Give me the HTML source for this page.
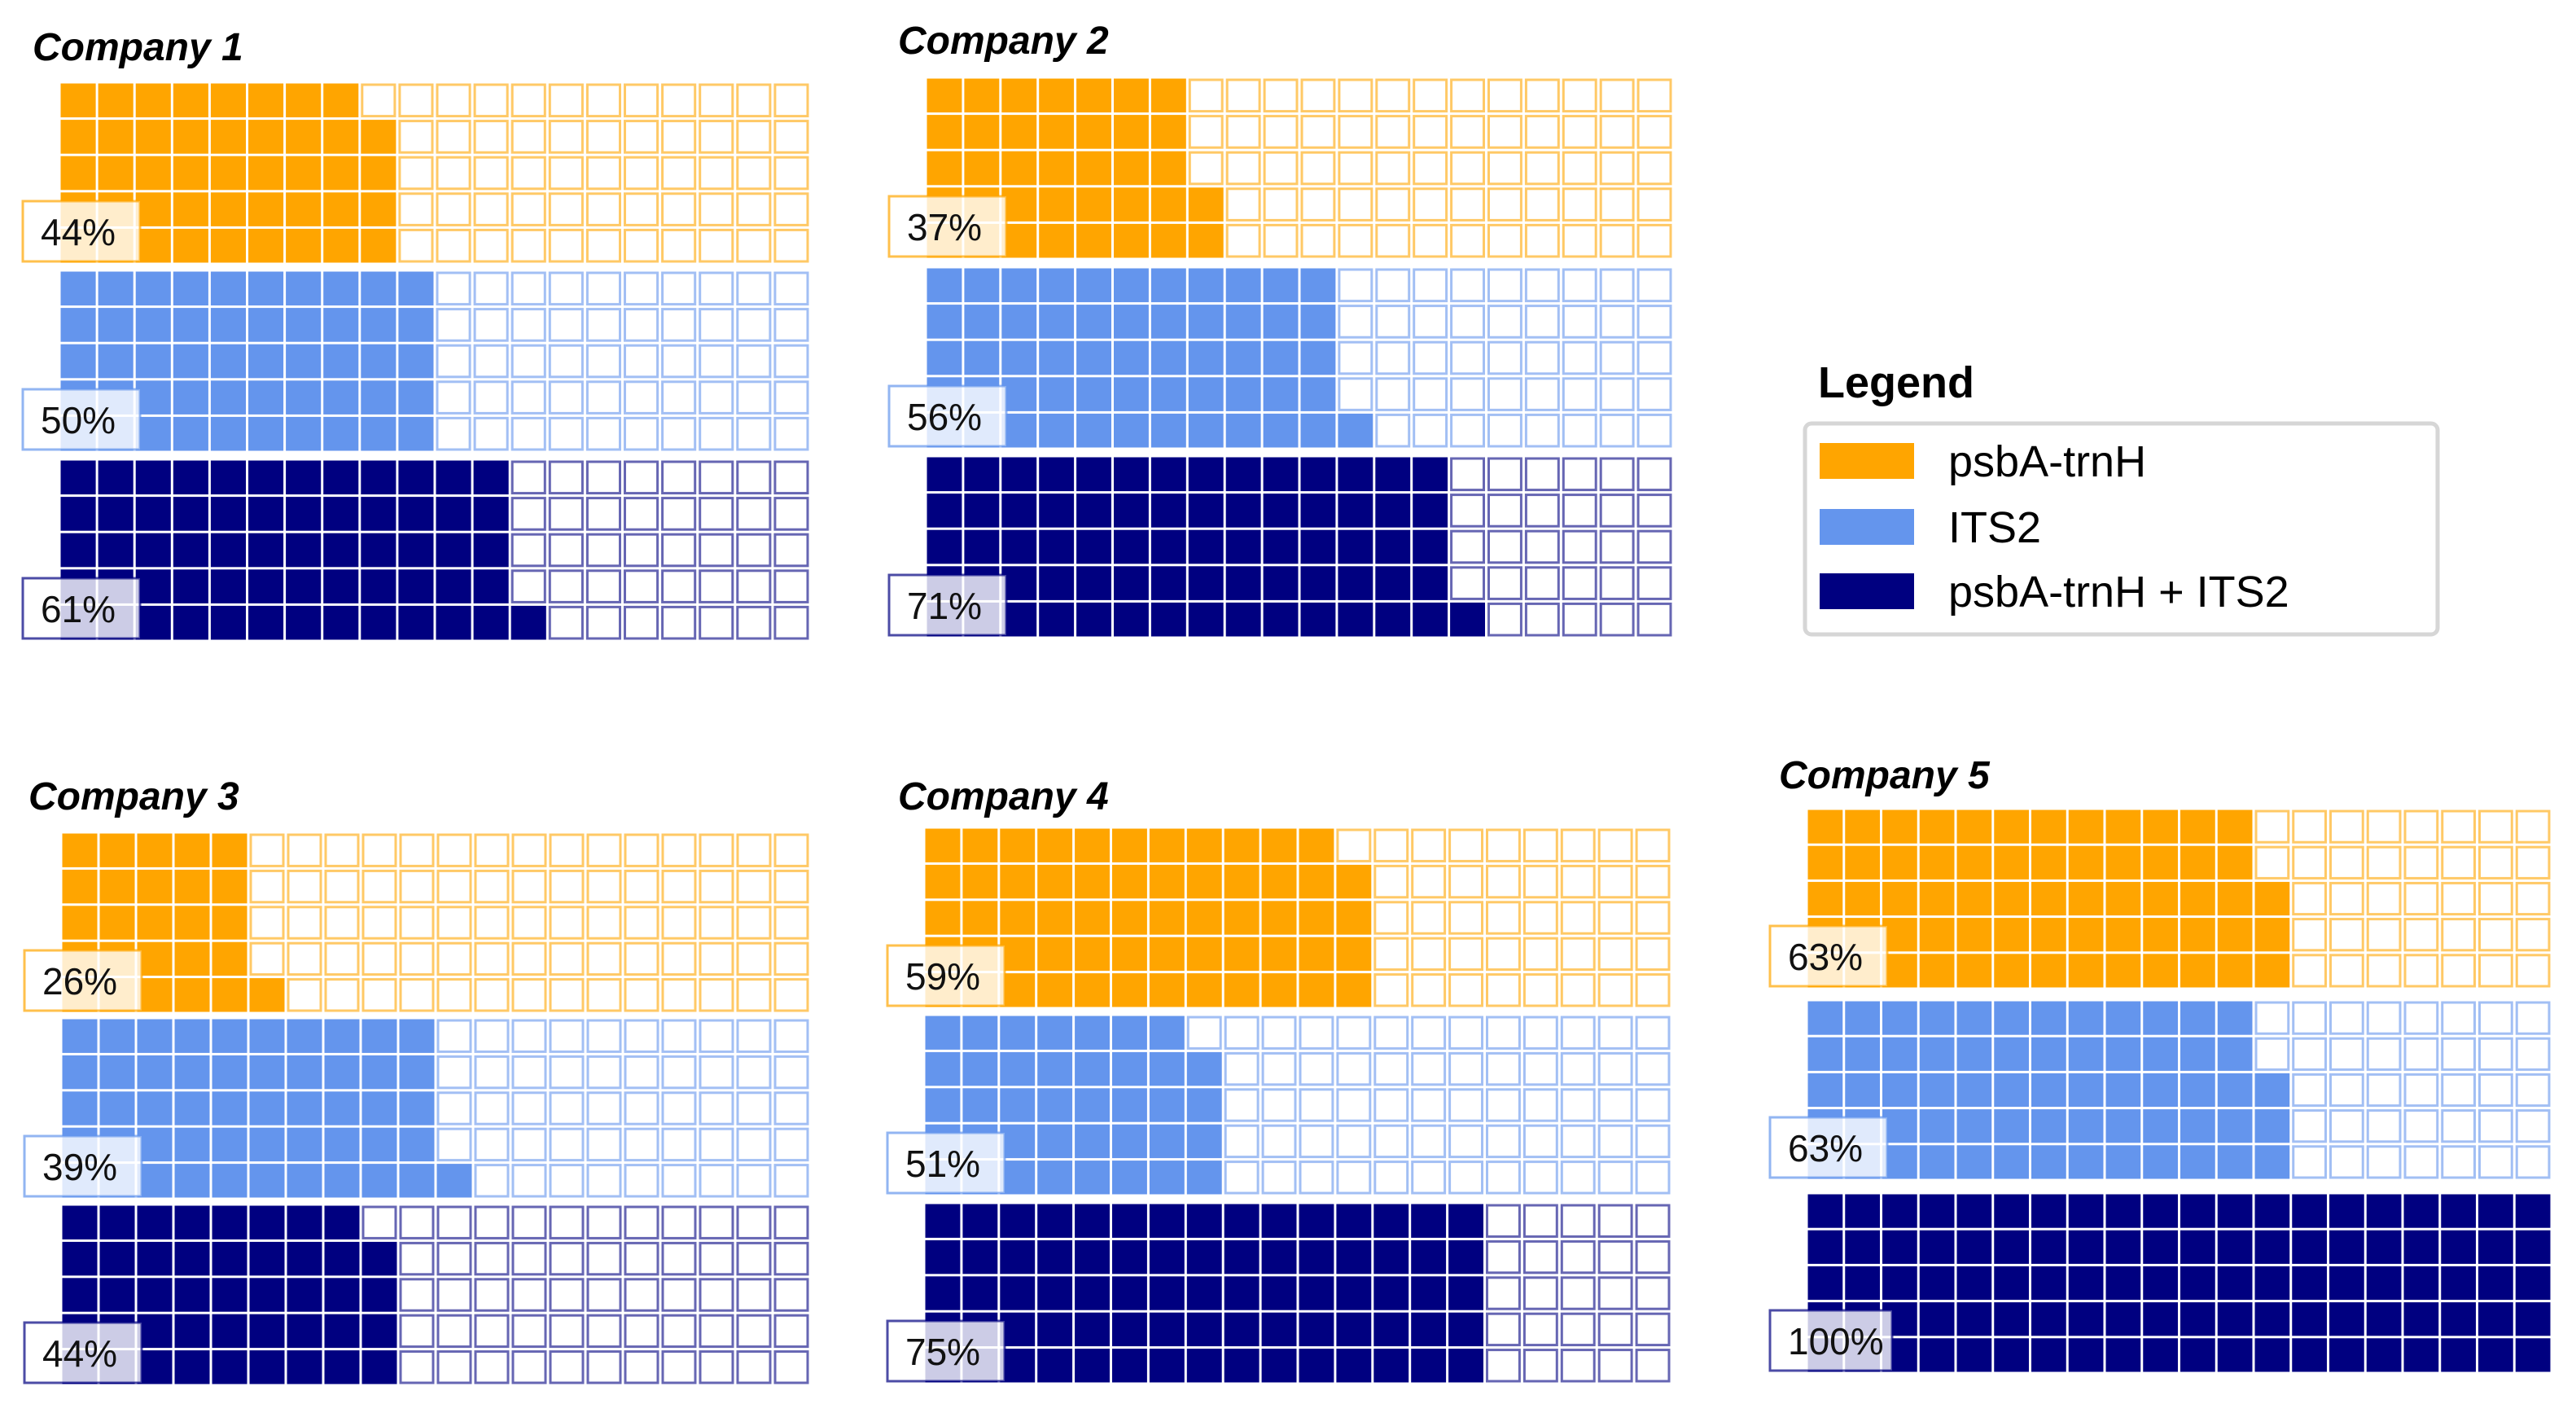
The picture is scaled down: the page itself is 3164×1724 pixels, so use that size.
<!DOCTYPE html>
<html><head><meta charset="utf-8"><style>
html,body{margin:0;padding:0;background:#fff;}
svg{display:block;font-family:"Liberation Sans",sans-serif;}
</style></head><body>
<svg id="chart" width="3164" height="1724" viewBox="0 0 3164 1724" xmlns="http://www.w3.org/2000/svg">
<g>
<text x="2233" y="488" font-size="54" font-weight="bold">Legend</text>
<rect x="2217" y="520" width="777" height="259" rx="8" fill="#fff" stroke="#d6d6d6" stroke-width="5"/>
<rect x="2235" y="544" width="116" height="44" fill="#FFA500"/>
<text x="2393" y="585" font-size="54">psbA-trnH</text>
<rect x="2235" y="625" width="116" height="44" fill="#6495ED"/>
<text x="2393" y="666" font-size="54">ITS2</text>
<rect x="2235" y="704" width="116" height="44" fill="#000080"/>
<text x="2393" y="745" font-size="54">psbA-trnH + ITS2</text>
</g>
</svg>
<script>
const companies = ["Company 1","Company 2","Company 3","Company 4","Company 5"];
const psbaValues = [44, 37, 26, 59, 63];
const its2Values = [50, 56, 39, 51, 63];
const combinedValues = [61, 71, 44, 75, 100];
// cell counts as drawn in the reference (ITS2 cells for companies 3 and 4 differ from labels)
const psbaCellValues = [44, 37, 26, 59, 63];
const its2CellValues = [50, 56, 51, 39, 63];
const combinedCellValues = [61, 71, 44, 75, 100];

const seriesColors = ["#FFA500", "#6495ED", "#000080"];
const seriesKeys = ["psba", "its2", "combined"];
const panels = [
  {x0:73, x1:995, tops:[101,332,564], h:223, tx:40, ty:74},
  {x0:1137, x1:2055, tops:[95,328,560], h:223, tx:1103, ty:66},
  {x0:75, x1:995, tops:[1022,1250,1479], h:222, tx:35, ty:994},
  {x0:1135, x1:2053, tops:[1016,1246,1477], h:222, tx:1103, ty:994},
  {x0:2219, x1:3134, tops:[993,1228,1465], h:221, tx:2185, ty:968}
];
const svg = document.getElementById('chart');
const NS = 'http://www.w3.org/2000/svg';
function mk(tag, attrs){ const e=document.createElementNS(NS,tag); for(const k in attrs) e.setAttribute(k,attrs[k]); return e; }

companies.forEach((name, ci) => {
  const p = panels[ci];
  const g = mk('g', {});
  
  
  svg.appendChild(g);
  const t = mk('text', {x:p.tx, y:p.ty, 'font-size':48, 'font-weight':'bold', 'font-style':'italic'});
  t.textContent = name;
  
  
  g.appendChild(t);
  const vals = [psbaValues[ci], its2Values[ci], combinedValues[ci]];
  const cells = [psbaCellValues[ci], its2CellValues[ci], combinedCellValues[ci]];
  const cw = (p.x1 - p.x0) / 20;
  vals.forEach((v, si) => {
    const col = seriesColors[si];
    const top = p.tops[si];
    const chh = p.h / 5;
    const n = cells[si];
    for (let c = 0; c < 20; c++) {
      for (let r = 0; r < 5; r++) {
        const idx = c * 5 + (4 - r);
        const filled = idx < n;
        const x = p.x0 + c * cw, y = top + r * chh;
        let rect;
        if (filled) {
          rect = mk('rect', {x:x+1.5, y:y+1.5, width:cw-3, height:chh-3, fill:col});
        } else {
          rect = mk('rect', {x:x+3, y:y+3, width:cw-6, height:chh-6, fill:'#fff', stroke:col, 'stroke-width':3, 'stroke-opacity':0.6});
        }
        
        
        g.appendChild(rect);
      }
    }
    const bw = v >= 100 ? 150 : 144;
    const bx = p.x0 - 45, by = top + p.h - 77;
    const box = mk('rect', {x:bx, y:by, width:bw, height:74, fill:'#fff', 'fill-opacity':0.8, stroke:col, 'stroke-width':3, 'stroke-opacity':0.7});
    
    
    g.appendChild(box);
    const lt = mk('text', {x:bx + 22, y:by + 54, 'font-size':46, fill:'#111'});
    lt.textContent = v + '%';
    
    
    g.appendChild(lt);
  });
});
</script>
</body></html>
